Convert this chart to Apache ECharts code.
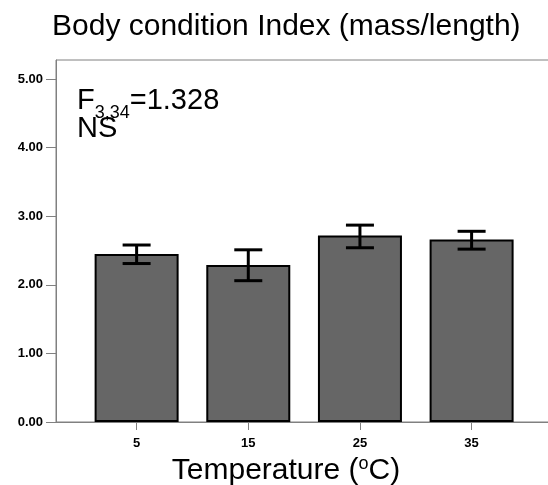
<!DOCTYPE html>
<html>
<head>
<meta charset="utf-8">
<script src="https://cdn.jsdelivr.net/npm/echarts@6/dist/echarts.min.js"></script>
<style>
  html, body { margin: 0; padding: 0; background: #fff; }
  #main { width: 548px; height: 485px; }
</style>
</head>
<body>
<div id="main"></div>
<script>
 // data
 var temps = [5, 15, 25, 35];
 var means = [2.45, 2.29, 2.72, 2.66];
 var upper = [2.58, 2.51, 2.87, 2.78];
 var lower = [2.31, 2.06, 2.54, 2.52];
 var yTicks = [0, 1, 2, 3, 4, 5];

 var myChart = echarts.init(document.getElementById('main'));

 var barData = [];
 var errData = [];
 for (var i = 0; i < temps.length; i++) {
   barData.push([temps[i], means[i]]);
   errData.push([temps[i], lower[i], upper[i]]);
 }

 var font = 'Liberation Sans, Arial, sans-serif';

 var option = {
   backgroundColor: '#fff',
   animation: false,
   title: {
     text: 'Body condition Index (mass/length)',
     left: 47,
     top: 7,
     textStyle: { fontFamily: font, fontSize: 30, fontWeight: 'normal', color: '#000' }
   },
   grid: {
     left: 56, right: -4, top: 60, bottom: 63,
     outerBoundsMode: 'none',
     containLabel: false,
     show: true, borderColor: '#808080', borderWidth: 1
   },
   graphic: [{
     type: 'text',
     left: 77, top: 86,
     style: {
       text: '{a|F}{s|3,34}{a|=1.328}\n{a|NS}',
       fill: '#000',
       rich: {
         a: { fontFamily: font, fontSize: 29, lineHeight: 28, verticalAlign: 'top' },
         s: { fontFamily: font, fontSize: 18, lineHeight: 28, padding: [18, 0, 0, 0], verticalAlign: 'top' }
       }
     }
   }],
   xAxis: {
     type: 'value',
     min: -2.22,
     max: 42.2,
     name: '{a|Temperature (}{s|o}{a|C)}',
     nameLocation: 'middle',
     nameGap: 28,
     nameTextStyle: {
       padding: [0, 36, 0, 0],
       rich: {
         a: { fontFamily: font, fontSize: 30, color: '#000' },
         s: { fontFamily: font, fontSize: 18, color: '#000', padding: [0, 0, 14, 0] }
       }
     },
     splitLine: { show: false },
     axisLine: { show: true, onZero: false, lineStyle: { color: '#808080', width: 1 } },
     axisTick: { show: true, length: 8, customValues: temps, lineStyle: { color: '#808080' } },
     axisLabel: {
       customValues: temps,
       margin: 15,
       fontFamily: font, fontSize: 13, fontWeight: 'bold', color: '#000'
     }
   },
   yAxis: {
     type: 'value',
     min: 0,
     max: 5.277,
     splitLine: { show: false },
     axisLine: { show: true, onZero: false, lineStyle: { color: '#808080', width: 1 } },
     axisTick: { show: true, length: 10, customValues: yTicks, lineStyle: { color: '#808080' } },
     axisLabel: {
       customValues: yTicks,
       margin: 13,
       fontFamily: font, fontSize: 13, fontWeight: 'bold', color: '#000',
       formatter: function (v) { return v.toFixed(2); }
     }
   },
   series: [{
     type: 'bar',
     data: barData,
     barWidth: 84,
     itemStyle: { color: '#666666', borderColor: '#000', borderWidth: 2 },
     z: 2
   }, {
     type: 'custom',
     data: errData,
     z: 3,
     renderItem: function (params, api) {
       var x = api.value(0);
       var lo = api.coord([x, api.value(1)]);
       var hi = api.coord([x, api.value(2)]);
       var half = 14;
       var st = { stroke: '#000', lineWidth: 3 };
       return {
         type: 'group',
         children: [
           { type: 'line', shape: { x1: hi[0], y1: hi[1], x2: lo[0], y2: lo[1] }, style: st },
           { type: 'line', shape: { x1: hi[0] - half, y1: hi[1], x2: hi[0] + half, y2: hi[1] }, style: st },
           { type: 'line', shape: { x1: lo[0] - half, y1: lo[1], x2: lo[0] + half, y2: lo[1] }, style: st }
         ]
       };
     }
   }]
 };

 myChart.setOption(option);
</script>
</body>
</html>
